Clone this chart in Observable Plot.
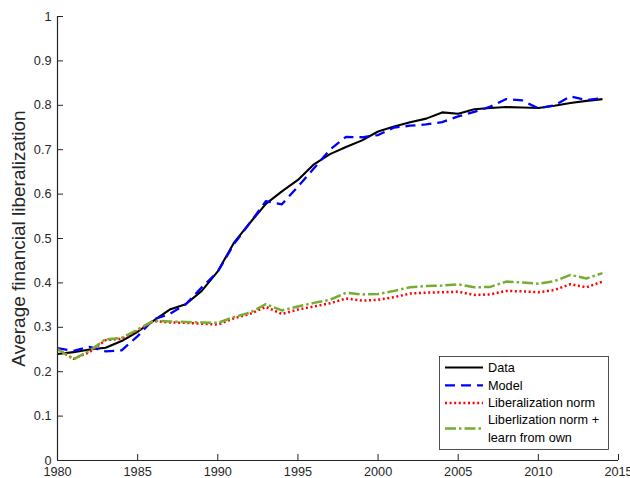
<!DOCTYPE html>
<html>
<head>
<meta charset="utf-8">
<script src="https://cdn.jsdelivr.net/npm/d3@7"></script>
<script src="https://cdn.jsdelivr.net/npm/@observablehq/plot@0.6"></script>
<style>
  html, body { margin: 0; padding: 0; background: #fff; }
  #wrap { position: relative; width: 630px; height: 478px; overflow: hidden; font-family: "Liberation Sans", Arial, sans-serif; }
  #legend { position: absolute; left: 439px; top: 356px; }
</style>
</head>
<body>
<div id="wrap"></div>
<script>
const years = d3.range(1980, 2015);
const dataSeries = [0.240,0.244,0.250,0.254,0.269,0.290,0.315,0.340,0.352,0.382,0.426,0.490,0.535,0.578,0.606,0.632,0.667,0.690,0.706,0.721,0.741,0.752,0.762,0.770,0.784,0.781,0.791,0.794,0.796,0.795,0.794,0.799,0.805,0.810,0.814];
const modelSeries = [0.253,0.247,0.256,0.246,0.248,0.280,0.318,0.330,0.352,0.390,0.425,0.487,0.535,0.584,0.577,0.617,0.658,0.700,0.729,0.728,0.733,0.750,0.754,0.757,0.762,0.775,0.785,0.797,0.814,0.811,0.793,0.800,0.820,0.812,0.816];
const normSeries = [0.251,0.229,0.244,0.271,0.274,0.293,0.314,0.311,0.310,0.308,0.306,0.320,0.330,0.346,0.330,0.340,0.347,0.354,0.365,0.360,0.362,0.368,0.376,0.378,0.379,0.380,0.373,0.374,0.382,0.381,0.379,0.384,0.397,0.390,0.403];
const normOwnSeries = [0.251,0.228,0.247,0.273,0.276,0.295,0.315,0.313,0.312,0.311,0.310,0.323,0.333,0.352,0.338,0.347,0.355,0.362,0.378,0.374,0.375,0.382,0.390,0.393,0.394,0.397,0.390,0.391,0.403,0.401,0.398,0.404,0.418,0.410,0.422];
const seriesNames = ["Data", "Model", "Liberalization norm", "Liberlization norm +\nlearn from own"];
const xTicks = [1980, 1985, 1990, 1995, 2000, 2005, 2010, 2015];
const yTicks = [0, 0.1, 0.2, 0.3, 0.4, 0.5, 0.6, 0.7, 0.8, 0.9, 1];
const yLabel = "Average financial liberalization";

const allSeries = [dataSeries, modelSeries, normSeries, normOwnSeries];
const styles = [
  {stroke: "#000000", strokeWidth: 2.1, dash: null},
  {stroke: "#0000ff", strokeWidth: 2.3, dash: "10,6"},
  {stroke: "#ff0000", strokeWidth: 2.5, dash: "2,2.6"},
  {stroke: "#77ac30", strokeWidth: 2.5, dash: "11,3,2.5,3"}
];

const rows = [];
allSeries.forEach((s, i) => s.forEach((v, j) => rows.push({series: seriesNames[i], idx: i, year: years[j], value: v})));

const axisColor = "#262626";
const lineMarks = allSeries.map((s, i) => Plot.line(rows.filter(r => r.idx === i), {
  x: "year", y: "value",
  stroke: styles[i].stroke, strokeWidth: styles[i].strokeWidth,
  strokeDasharray: styles[i].dash, strokeLinejoin: "round", strokeLinecap: "butt"
}));

const plot = Plot.plot({
  width: 630, height: 478,
  marginLeft: 57, marginRight: 12, marginTop: 16, marginBottom: 18,
  style: {fontFamily: "'Liberation Sans', Arial, sans-serif", fontSize: "12.7px", color: axisColor, background: "#fff"},
  x: {domain: [1980, 2015]},
  y: {domain: [0, 1]},
  marks: [
    Plot.axisX(xTicks, {tickSize: -6, tickPadding: 12.5, tickFormat: d => String(d), label: null, stroke: axisColor, fill: axisColor}),
    Plot.axisY(yTicks, {tickSize: -6, tickPadding: 12, tickFormat: d => String(d), label: null, stroke: axisColor, fill: axisColor}),
    ...lineMarks,
    Plot.ruleY([0], {stroke: axisColor, strokeWidth: 1.2}),
    Plot.ruleX([1980], {stroke: axisColor, strokeWidth: 1.2}),
    Plot.text([yLabel], {text: d => d, frameAnchor: "left", textAnchor: "middle", lineAnchor: "middle", rotate: -90, dx: -38.5, fontSize: 19, fill: axisColor})
  ]
});
document.getElementById("wrap").appendChild(plot);

// Legend
const lw = 169, lh = 93;
const leg = d3.select("#wrap").append("svg").attr("id", "legend").attr("width", lw + 1).attr("height", lh + 1)
  .style("font-family", "'Liberation Sans', Arial, sans-serif").style("font-size", "12.7px");
leg.append("rect").attr("x", 0.5).attr("y", 0.5).attr("width", lw).attr("height", lh).attr("fill", "#fff").attr("stroke", axisColor).attr("stroke-width", 0.8);
const rowY = [11.5, 29.3, 47, 72.5];
seriesNames.forEach((name, i) => {
  const y = rowY[i];
  leg.append("line").attr("x1", 6).attr("x2", 44).attr("y1", y).attr("y2", y)
    .attr("stroke", styles[i].stroke).attr("stroke-width", styles[i].strokeWidth)
    .attr("stroke-dasharray", styles[i].dash);
  const lines = name.split("\n");
  const t = leg.append("text").attr("x", 49).attr("fill", "#000");
  lines.forEach((ln, k) => {
    t.append("tspan").attr("x", 49).attr("y", y + (k - (lines.length - 1) / 2) * 17.7).attr("dy", "0.35em").text(ln);
  });
});
</script>
</body>
</html>
